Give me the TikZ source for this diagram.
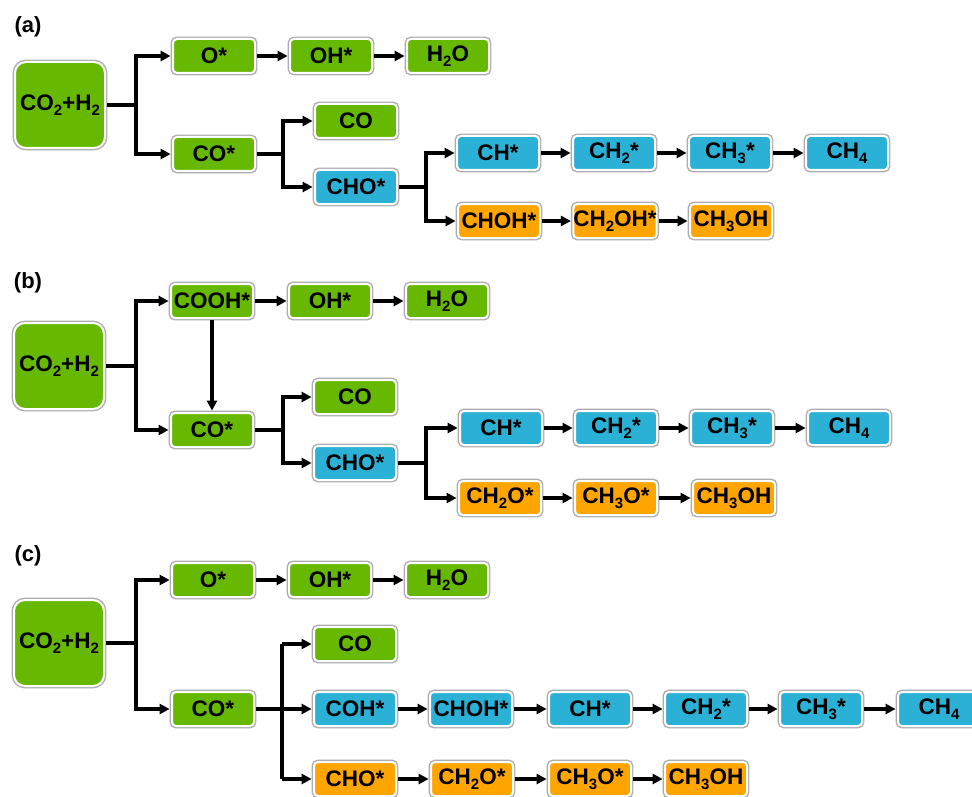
\documentclass[tikz,border=0pt]{standalone}
\usepackage{fontspec}
\setmainfont{Liberation Sans}
\usetikzlibrary{arrows.meta}
\definecolor{cgreen}{RGB}{102,185,0}
\definecolor{cblue}{RGB}{43,177,214}
\definecolor{corange}{RGB}{255,165,0}
\newcommand{\sbs}[1]{\raisebox{-4.5pt}{\fontsize{15}{15}\selectfont #1}}
\tikzset{
  box/.style={rounded corners=4pt, minimum width=82pt, minimum height=34pt, inner sep=0pt,
    draw=white, line width=2pt, preaction={draw=black!32, line width=4.8pt},
    font=\fontsize{22.5}{22.5}\selectfont\bfseries, outer sep=2.4pt},
  g/.style={box, fill=cgreen},
  b/.style={box, fill=cblue},
  o/.style={box, fill=corange},
  big/.style={g, rounded corners=11pt, minimum width=90pt, minimum height=86pt},
  lab/.style={font=\fontsize{22}{22}\selectfont\bfseries, inner sep=0pt},
  ln/.style={line width=3.2pt, black},
  ar/.style={ln, -{Triangle[length=10pt,width=10pt]}},
}
\begin{document}
\begin{tikzpicture}[x=1pt,y=-1pt]
\useasboundingbox (0,0) rectangle (972,797);
\clip (0,0) rectangle (972,797);
\fill[white] (0,0) rectangle (972,797);
% ---------- (a)
\node[lab] (la) at (28,27) {(a)};
\node[big] (aS) at (60,105) {CO\sbs{2}+H\sbs{2}};
\node[g] (aO) at (214,56) {O*};
\node[g] (aOH) at (331,56) {OH*};
\node[g] (aW) at (448,56) {H\sbs{2}O};
\node[g] (aCOs) at (214,154) {CO*};
\node[g] (aCO) at (356,121) {CO};
\node[b] (aCHO) at (356,187) {CHO*};
\node[b] (aCH) at (498,153) {CH*};
\node[b] (aCH2) at (614,153) {CH\sbs{2}*};
\node[b] (aCH3) at (730,153) {CH\sbs{3}*};
\node[b] (aCH4) at (847,153) {CH\sbs{4}};
\node[o] (aCHOH) at (499,221) {CHOH*};
\node[o] (aCH2OH) at (615,221) {CH\sbs{2}OH*};
\node[o] (aMeOH) at (731,221) {CH\sbs{3}OH};
\coordinate (aj1) at (136,105);
\coordinate (aj2) at (283,154);
\coordinate (aj3) at (426,187);
\draw[ln] (aS.east) -- (aj1);
\draw[ar] (aj1) |- (aO.west);
\draw[ar] (aj1) |- (aCOs.west);
\draw[ar] (aO.east) -- (aOH.west);
\draw[ar] (aOH.east) -- (aW.west);
\draw[ln] (aCOs.east) -- (aj2);
\draw[ar] (aj2) |- (aCO.west);
\draw[ar] (aj2) |- (aCHO.west);
\draw[ln] (aCHO.east) -- (aj3);
\draw[ar] (aj3) |- (aCH.west);
\draw[ar] (aj3) |- (aCHOH.west);
\draw[ar] (aCH.east) -- (aCH2.west);
\draw[ar] (aCH2.east) -- (aCH3.west);
\draw[ar] (aCH3.east) -- (aCH4.west);
\draw[ar] (aCHOH.east) -- (aCH2OH.west);
\draw[ar] (aCH2OH.east) -- (aMeOH.west);
% ---------- (b)
\node[lab] (lb) at (28,283) {(b)};
\node[big] (bS) at (59,366) {CO\sbs{2}+H\sbs{2}};
\node[g] (bCOOH) at (212,301) {COOH*};
\node[g] (bOH) at (330,301) {OH*};
\node[g] (bW) at (447,301) {H\sbs{2}O};
\node[g] (bCOs) at (212,430) {CO*};
\node[g] (bCO) at (355,397) {CO};
\node[b] (bCHO) at (355,463) {CHO*};
\node[b] (bCH) at (501,428) {CH*};
\node[b] (bCH2) at (616,428) {CH\sbs{2}*};
\node[b] (bCH3) at (732,428) {CH\sbs{3}*};
\node[b] (bCH4) at (849,428) {CH\sbs{4}};
\node[o] (bCH2O) at (500,498) {CH\sbs{2}O*};
\node[o] (bCH3O) at (616,498) {CH\sbs{3}O*};
\node[o] (bMeOH) at (734,498) {CH\sbs{3}OH};
\coordinate (bj1) at (136,366);
\coordinate (bj2) at (283,430);
\coordinate (bj3) at (426,463);
\draw[ln] (bS.east) -- (bj1);
\draw[ar] (bj1) |- (bCOOH.west);
\draw[ar] (bj1) |- (bCOs.west);
\draw[ar] (bCOOH.east) -- (bOH.west);
\draw[ar] (bOH.east) -- (bW.west);
\draw[ar] (bCOOH.south) -- (bCOs.north);
\draw[ln] (bCOs.east) -- (bj2);
\draw[ar] (bj2) |- (bCO.west);
\draw[ar] (bj2) |- (bCHO.west);
\draw[ln] (bCHO.east) -- (bj3);
\draw[ar] (bj3) |- (bCH.west);
\draw[ar] (bj3) |- (bCH2O.west);
\draw[ar] (bCH.east) -- (bCH2.west);
\draw[ar] (bCH2.east) -- (bCH3.west);
\draw[ar] (bCH3.east) -- (bCH4.west);
\draw[ar] (bCH2O.east) -- (bCH3O.west);
\draw[ar] (bCH3O.east) -- (bMeOH.west);
% ---------- (c)
\node[lab] (lc) at (28,556) {(c)};
\node[big] (cS) at (59,643) {CO\sbs{2}+H\sbs{2}};
\node[g] (cO) at (213,580) {O*};
\node[g] (cOH) at (330,580) {OH*};
\node[g] (cW) at (447,580) {H\sbs{2}O};
\node[g] (cCOs) at (213,709) {CO*};
\node[g] (cCO) at (355,644) {CO};
\node[b] (cCOH) at (355,709) {COH*};
\node[b] (cCHOH) at (471,709) {CHOH*};
\node[b] (cCH) at (590,709) {CH*};
\node[b] (cCH2) at (706,709) {CH\sbs{2}*};
\node[b] (cCH3) at (821,709) {CH\sbs{3}*};
\node[b] (cCH4) at (939,709) {CH\sbs{4}};
\node[o] (cCHO) at (355,779) {CHO*};
\node[o] (cCH2O) at (472,779) {CH\sbs{2}O*};
\node[o] (cCH3O) at (590,779) {CH\sbs{3}O*};
\node[o] (cMeOH) at (706,779) {CH\sbs{3}OH};
\coordinate (cj1) at (136,643);
\coordinate (cj2) at (282,644);
\coordinate (cj3) at (282,779);
\draw[ln] (cS.east) -- (cj1);
\draw[ar] (cj1) |- (cO.west);
\draw[ar] (cj1) |- (cCOs.west);
\draw[ar] (cO.east) -- (cOH.west);
\draw[ar] (cOH.east) -- (cW.west);
\draw[ar] (cCOs.east) -- (cCOH.west);
\draw[ln] (cj2) -- (cj3);
\draw[ar] (cj2) -- (cCO.west);
\draw[ar] (cj3) -- (cCHO.west);
\draw[ar] (cCOH.east) -- (cCHOH.west);
\draw[ar] (cCHOH.east) -- (cCH.west);
\draw[ar] (cCH.east) -- (cCH2.west);
\draw[ar] (cCH2.east) -- (cCH3.west);
\draw[ar] (cCH3.east) -- (cCH4.west);
\draw[ar] (cCHO.east) -- (cCH2O.west);
\draw[ar] (cCH2O.east) -- (cCH3O.west);
\draw[ar] (cCH3O.east) -- (cMeOH.west);
\end{tikzpicture}
\end{document}
